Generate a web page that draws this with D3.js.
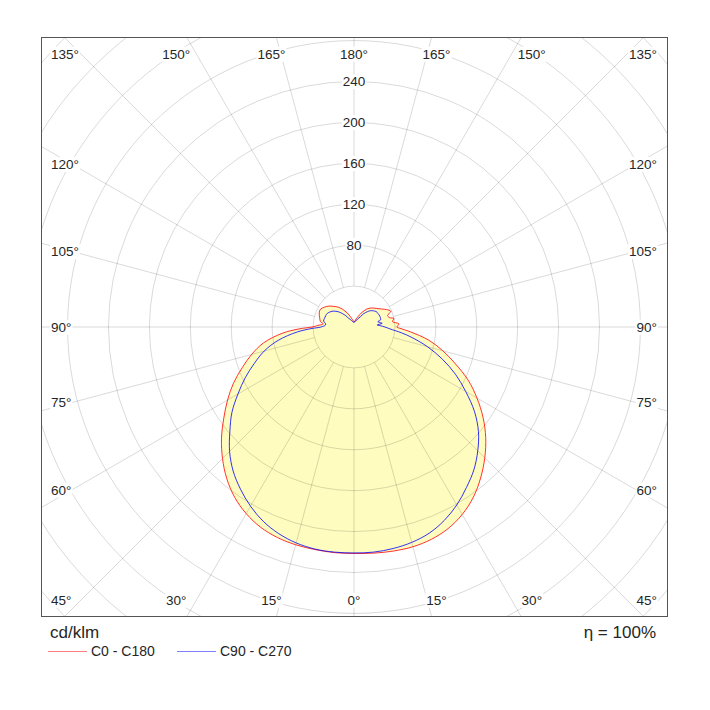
<!DOCTYPE html>
<html>
<head>
<meta charset="utf-8">
<script src="https://cdn.jsdelivr.net/npm/d3@7"></script>
<style>
  body { margin: 0; background: #fff; }
  svg text { font-family: "Liberation Sans", Arial, sans-serif; fill: #262626; }
</style>
</head>
<body>
<div id="chart"></div>
<script>
(function() {

  "use strict";

  // luminous intensity in cd/klm, gamma in degrees (0 = straight down, 180 = up)
  var c0Angles = [0, 5, 10, 15, 20, 25, 30, 35, 40, 45, 50, 55, 60, 65, 70, 75, 80, 85, 88, 90, 94, 98, 102, 105, 109, 113, 118, 123, 130, 137, 143, 147, 153, 158, 165, 172, 180];
  var c0Values = [221.4, 221.9, 222.4, 222.4, 220.9, 217.5, 211.6, 203.3, 192.6, 180.8, 168.1, 154, 138.8, 123.2, 105.6, 89.9, 74.3, 55.7, 46, 42, 44, 38, 40, 35.7, 34.7, 39.1, 36.2, 32.3, 28.3, 25.4, 22.5, 19.6, 15.2, 11.3, 8.3, 5.9, 4.9];

  var c180Angles = [0, 5, 10, 15, 20, 25, 30, 35, 40, 45, 50, 55, 60, 65, 70, 75, 80, 85, 88, 90, 93, 96, 99, 105, 112, 118, 124, 130, 135, 142, 148, 154, 160, 167, 174, 180];
  var c180Values = [221.4, 221.4, 220.9, 220.4, 219, 216, 210.7, 203.3, 193.5, 181.8, 169.1, 155.4, 142.7, 130, 116.3, 103.6, 89.9, 70.4, 53.8, 41, 34.2, 30.3, 33.2, 34.7, 36.7, 37.1, 34.7, 31.8, 28.6, 24.4, 20, 15.6, 11.2, 7.8, 5.9, 4.9];

  var c90Angles = [0, 5, 10, 15, 20, 25, 30, 35, 40, 45, 50, 55, 60, 65, 70, 75, 80, 83, 87, 90, 93, 95, 97.5, 100, 102.6, 104.8, 112, 120, 125, 130, 135, 139, 144, 148, 155, 165, 180];
  var c90Values = [220.9, 220.9, 219.9, 218, 214.6, 208.7, 200.9, 191.6, 182.3, 171.1, 158.8, 143.7, 126.1, 109.5, 91.9, 74.3, 56.7, 46.9, 35.2, 30.3, 25.4, 22.8, 27.8, 25.4, 23.9, 26.8, 27.4, 26.9, 26.4, 24.6, 22.5, 19.7, 16.1, 11.9, 8.8, 5.9, 4.4];

  var c270Angles = [0, 5, 10, 15, 20, 25, 30, 35, 40, 45, 50, 55, 60, 65, 70, 75, 80, 85, 88, 90, 94, 97, 101, 106, 112, 117, 123, 128, 134, 139, 144, 149, 160, 170, 180];
  var c270Values = [220.9, 220.9, 220.4, 218.5, 215, 209.7, 202.3, 193.5, 183.8, 172, 158.4, 145.7, 131, 117.3, 103.6, 90.9, 75.3, 55.7, 41.1, 32.3, 27.9, 28.1, 30.3, 30.1, 29.8, 29.3, 27.4, 25.2, 21.5, 17.6, 13.7, 9.8, 6.8, 4.9, 4.4];

  var ringValues = [40, 80, 120, 160, 200, 240, 280, 320, 360, 400, 440];
  var ringLabels = [80, 120, 160, 200, 240];
  var spokeAngles = [0, 15, 30, 45, 60, 75, 90, 105, 120, 135, 150, 165, 180];

  var legendNames = ['C0 - C180', 'C90 - C270'];
  var legendColors = ['#ff0000', '#0000ff'];

  var width = 710,
    height = 710;
  var frame = { left: 41.5, top: 37.5, right: 667.5, bottom: 616.5 };
  var cx = 354,
    cy = 327;

  var r = d3.scaleLinear().domain([0, 240]).range([0, 245.5]);

  var svg = d3.select('#chart').append('svg')
    .attr('width', width)
    .attr('height', height);

  svg.append('defs').append('clipPath')
    .attr('id', 'frameClip')
    .append('rect')
    .attr('x', frame.left)
    .attr('y', frame.top)
    .attr('width', frame.right - frame.left)
    .attr('height', frame.bottom - frame.top);

  var plot = svg.append('g')
    .attr('clip-path', 'url(#frameClip)');
  var centre = plot.append('g')
    .attr('transform', 'translate(' + cx + ',' + cy + ')');

  // side = 1 for the right half plane, -1 for the left one
  function toRadial(angles, values, side) {
    return angles.map(function(g, i) {
      return { angle: Math.PI - side * g * Math.PI / 180, value: values[i] };
    });
  }

  function closedCurve(rightAngles, rightValues, leftAngles, leftValues) {
    var left = toRadial(leftAngles, leftValues, -1).reverse();
    var right = toRadial(rightAngles, rightValues, 1);
    return left.concat(right.slice(1, -1));
  }

  var line = d3.lineRadial()
    .angle(function(d) { return d.angle; })
    .radius(function(d) { return r(d.value); })
    .curve(d3.curveCatmullRomClosed.alpha(0.5));

  var curves = [
    closedCurve(c0Angles, c0Values, c180Angles, c180Values),
    closedCurve(c90Angles, c90Values, c270Angles, c270Values)
  ];

  // light fill under both planes
  centre.selectAll('path.area')
    .data(curves)
    .enter()
    .append('path')
    .attr('class', 'area')
    .attr('d', line)
    .attr('fill', '#fffcbf')
    .attr('stroke', 'none');

  // grid
  centre.selectAll('circle.ring')
    .data(ringValues)
    .enter()
    .append('circle')
    .attr('class', 'ring')
    .attr('r', function(d) { return r(d); })
    .attr('fill', 'none')
    .attr('stroke', '#000')
    .attr('stroke-opacity', 0.15);

  var spokes = [];
  spokeAngles.forEach(function(g) {
    spokes.push({ gamma: g, side: 1 });
    if (g > 0 && g < 180) {
      spokes.push({ gamma: g, side: -1 });
    }
  });

  centre.selectAll('line.spoke')
    .data(spokes)
    .enter()
    .append('line')
    .attr('class', 'spoke')
    .attr('x1', function(d) { return d.side * Math.sin(d.gamma * Math.PI / 180) * r(ringValues[0]); })
    .attr('y1', function(d) { return Math.cos(d.gamma * Math.PI / 180) * r(ringValues[0]); })
    .attr('x2', function(d) { return d.side * Math.sin(d.gamma * Math.PI / 180) * r(ringValues[ringValues.length - 1]); })
    .attr('y2', function(d) { return Math.cos(d.gamma * Math.PI / 180) * r(ringValues[ringValues.length - 1]); })
    .attr('stroke', '#000')
    .attr('stroke-opacity', 0.15);

  // curve outlines
  centre.selectAll('path.curve')
    .data(curves)
    .enter()
    .append('path')
    .attr('class', 'curve')
    .attr('d', line)
    .attr('fill', 'none')
    .attr('stroke', function(d, i) { return legendColors[i]; })
    .attr('stroke-width', 1)
    .attr('stroke-opacity', 0.8);

  function addBackground(sel) {
    sel.each(function() {
      var b = this.getBBox();
      d3.select(this.parentNode).insert('rect', function() { return this; }.bind(this))
        .attr('x', b.x - 1)
        .attr('y', b.y)
        .attr('width', b.width + 2)
        .attr('height', b.height)
        .attr('fill', '#fff');
    });
  }

  // intensity labels on the vertical axis
  var ringText = svg.append('g').selectAll('g')
    .data(ringLabels)
    .enter()
    .append('g')
    .append('text')
    .attr('x', cx)
    .attr('y', function(d) { return cy - r(d); })
    .attr('dy', '0.35em')
    .attr('text-anchor', 'middle')
    .style('font-size', '13.5px')
    .text(function(d) { return d; });
  addBackground(ringText);

  // angle labels along the frame
  var topY = 54,
    bottomY = 600,
    insetLeft = 51,
    insetRight = 657;

  var angleText = svg.append('g').selectAll('g')
    .data(spokes)
    .enter()
    .append('g')
    .append('text')
    .attr('dy', '0.35em')
    .style('font-size', '13.5px')
    .text(function(d) { return d.gamma + '\u00b0'; })
    .each(function(d) {
      var a = d.gamma * Math.PI / 180;
      var s = Math.abs(Math.sin(a)),
        c = Math.cos(a);
      var t = d3.select(this);
      var w = this.getComputedTextLength();
      if (Math.abs(c) >= s - 1e-6) {
        var x = cx + d.side * (s / Math.abs(c)) * 308;
        x = Math.max(insetLeft + w / 2, Math.min(insetRight - w / 2, x));
        t.attr('x', x)
          .attr('y', c > 0 ? bottomY : topY)
          .attr('text-anchor', 'middle');
      } else {
        t.attr('x', d.side > 0 ? insetRight : insetLeft)
          .attr('y', cy + (c / s) * 282)
          .attr('text-anchor', d.side > 0 ? 'end' : 'start');
      }
    });
  addBackground(angleText);

  svg.append('rect')
    .attr('x', frame.left)
    .attr('y', frame.top)
    .attr('width', frame.right - frame.left)
    .attr('height', frame.bottom - frame.top)
    .attr('fill', 'none')
    .attr('stroke', '#555')
    .attr('stroke-width', 1);

  svg.append('text')
    .attr('x', 50)
    .attr('y', 632)
    .attr('dy', '0.35em')
    .style('font-size', '17px')
    .text('cd/klm');

  svg.append('text')
    .attr('x', 656)
    .attr('y', 632)
    .attr('dy', '0.35em')
    .attr('text-anchor', 'end')
    .style('font-size', '17px')
    .text('\u03b7 = 100%');

  var legend = svg.append('g').selectAll('g')
    .data(legendNames)
    .enter()
    .append('g')
    .attr('transform', function(d, i) { return 'translate(' + (48 + i * 129) + ',651)'; });

  legend.append('line')
    .attr('x1', 0)
    .attr('x2', 39)
    .attr('y1', 0.5)
    .attr('y2', 0.5)
    .attr('stroke', function(d) { return legendColors[legendNames.indexOf(d)]; })
    .attr('stroke-width', 1.2)
    .attr('stroke-opacity', 0.5);

  legend.append('text')
    .attr('x', 43)
    .attr('y', 0)
    .attr('dy', '0.35em')
    .style('font-size', '14px')
    .text(function(d) { return d; });

})();
</script>
</body>
</html>
